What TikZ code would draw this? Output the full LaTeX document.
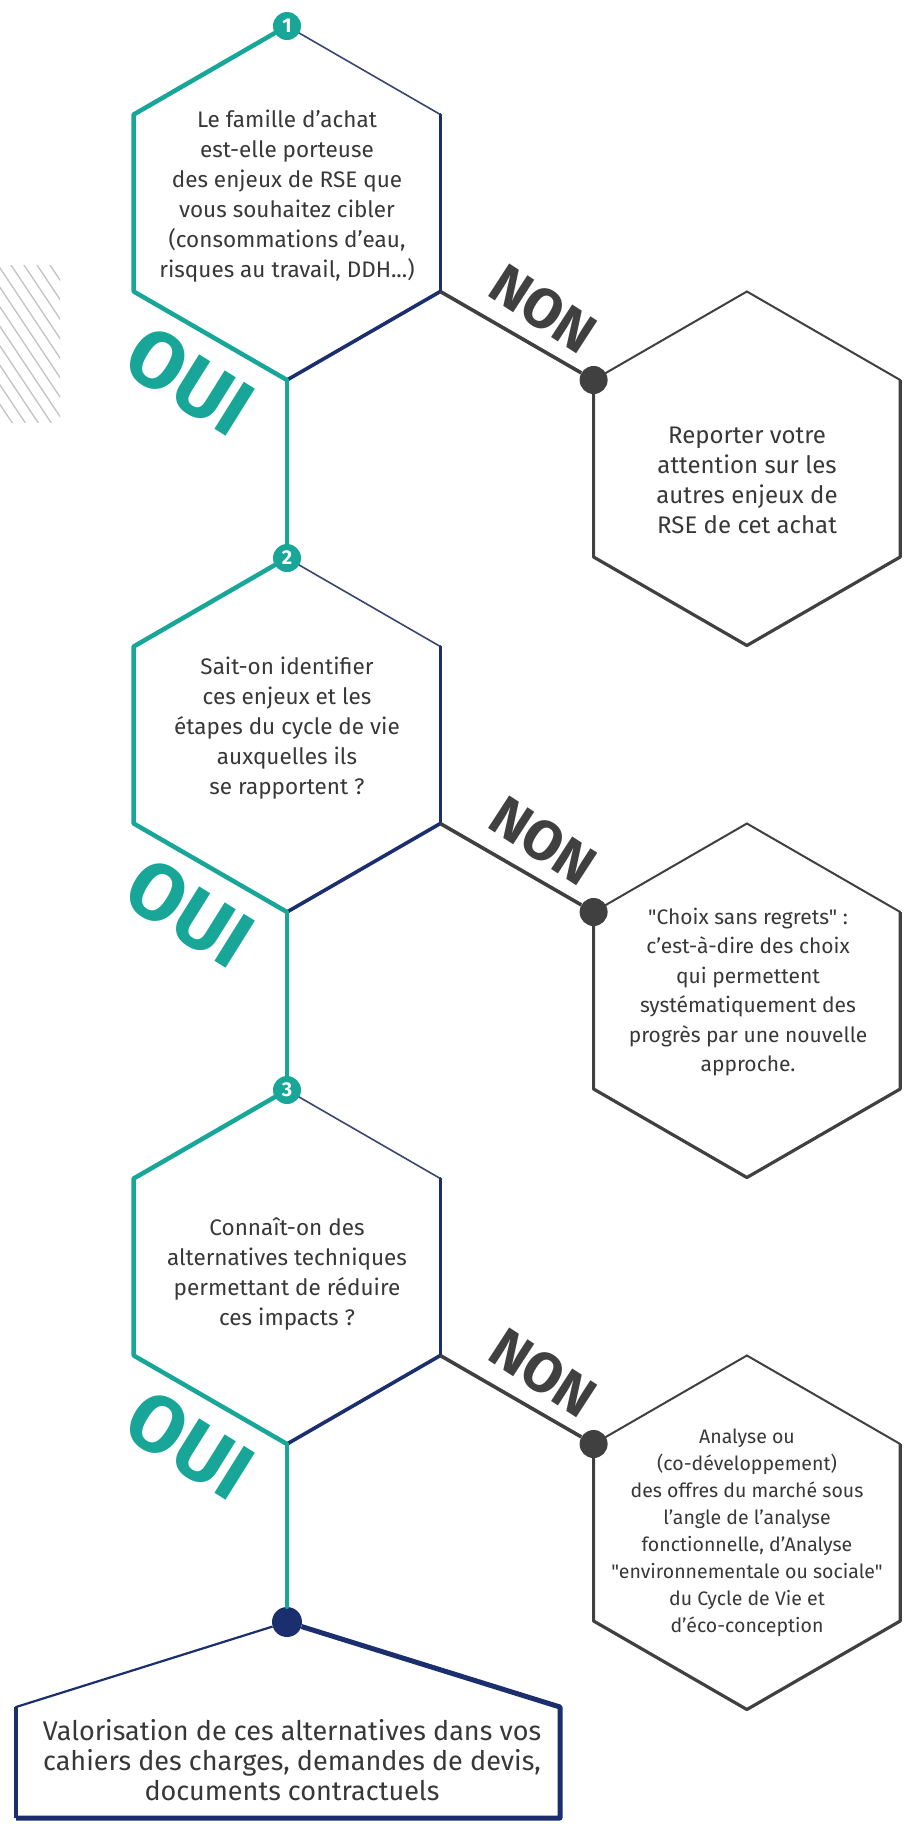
\documentclass[tikz,border=0pt]{standalone}
\usepackage{fontspec}
\setmainfont{Fira Sans}[Ligatures=TeXOff]
\usetikzlibrary{calc}
\definecolor{tealc}{HTML}{17A697}
\definecolor{navyc}{HTML}{1B2E6E}
\definecolor{navythin}{HTML}{3A4670}
\definecolor{grayc}{HTML}{404040}
\definecolor{txtc}{HTML}{383838}
\definecolor{hatchc}{HTML}{C4C4C4}
\newcommand\defhex[3]{%
 \coordinate (#1-c) at (#2,#3);
 \coordinate (#1-t) at (#2,#3-177);
 \coordinate (#1-ur) at (#2+153.3,#3-88.5);
 \coordinate (#1-lr) at (#2+153.3,#3+88.5);
 \coordinate (#1-b) at (#2,#3+177);
 \coordinate (#1-ll) at (#2-153.3,#3+88.5);
 \coordinate (#1-ul) at (#2-153.3,#3-88.5);
}
\tikzset{
 tealline/.style={draw=tealc, line width=4.5pt, line join=round, line cap=round},
 navytop/.style={draw=navythin, line width=1.6pt, line cap=round},
 navyside/.style={draw=navyc, line width=2.8pt, line cap=round},
 navybot/.style={draw=navyc, line width=3.6pt, line cap=round},
 ansline/.style={draw=grayc, line width=3.2pt, line join=round},
 anstop/.style={draw=grayc, line width=2pt, line cap=round},
 nonline/.style={draw=grayc, line width=3.6pt},
 numdot/.style={circle, fill=tealc, inner sep=0pt, minimum size=28pt, text=white, font=\fontsize{20}{20}\selectfont\bfseries},
 graydot/.style={circle, fill=grayc, inner sep=0pt, minimum size=28pt},
 navydot/.style={circle, fill=navyc, inner sep=0pt, minimum size=30pt},
 qtext/.style={align=center, text=txtc, font=\fontsize{22.5}{30}\selectfont},
 atext/.style={align=center, text=txtc, font=\fontsize{21}{29.5}\selectfont},
 ouilbl/.style={text=tealc, font=\fontsize{80}{80}\selectfont\bfseries, rotate=-32, inner sep=0pt},
 nonlbl/.style={text=grayc, font=\fontsize{56}{56}\selectfont\bfseries, rotate=-33, inner sep=0pt},
 hatch/.style={draw=hatchc, line width=1.3pt}
}
\begin{document}
\begin{tikzpicture}[x=1pt,y=-1pt]
\useasboundingbox (0,0) rectangle (912,1824);
\fill[white] (0,0) rectangle (912,1824);
% hatch
\begin{scope}
\clip (0,265) rectangle (60,422);
\foreach \k in {0,...,14} \draw[hatch] (-108+13*\k,262) -- ++(108,162);
\end{scope}
% hex coordinates
\defhex{q1}{287}{203}
\defhex{q2}{287}{735}
\defhex{q3}{287}{1267}
\defhex{a1}{746.9}{468.5}
\defhex{a2}{746.9}{1000.5}
\defhex{a3}{746.9}{1532.5}
% question hexagons
\foreach \h in {q1,q2,q3}{
 \draw[tealline] (\h-t) -- (\h-ul) -- (\h-ll) -- (\h-b);
 \draw[navytop] (\h-t) -- (\h-ur);
 \draw[navyside] (\h-ur) -- (\h-lr);
 \draw[navybot] (\h-lr) -- (\h-b);
}
% answer hexagons
\foreach \h in {a1,a2,a3}{
 \draw[anstop] (\h-ul) -- (\h-t) -- (\h-ur);
 \draw[ansline] (\h-ur) -- (\h-lr) -- (\h-b) -- (\h-ll) -- (\h-ul);
}
% dots
\node[numdot] (n1) at (q1-t) {1};
\node[numdot] (n2) at (q2-t) {2};
\node[numdot] (n3) at (q3-t) {3};
\node[graydot] (d1) at (a1-ul) {};
\node[graydot] (d2) at (a2-ul) {};
\node[graydot] (d3) at (a3-ul) {};
\node[navydot] (df) at (287,1622) {};
% connectors
\draw[tealline] (q1-b) -- (n2);
\draw[tealline] (q2-b) -- (n3);
\draw[tealline] (q3-b) -- (df);
\draw[nonline] (q1-lr) -- (d1);
\draw[nonline] (q2-lr) -- (d2);
\draw[nonline] (q3-lr) -- (d3);
% labels
\foreach \h in {q1,q2,q3}{
 \node[ouilbl] at ($(\h-c)+(-97,178)$) {OUI};
 \node[nonlbl] at ($(\h-c)+(256,106)$) {NON};
}
% texts
\node[qtext] (t1) at (287,196) {Le famille d’achat\\est-elle porteuse\\des enjeux de RSE que\\vous souhaitez cibler\\(consommations d’eau,\\risques au travail, DDH...)};
\node[qtext] (t2) at (287,728) {Sait-on identifier\\ces enjeux et les\\étapes du cycle de vie\\auxquelles ils\\se rapportent ?};
\node[qtext] (t3) at (287,1274) {Connaît-on des\\alternatives techniques\\permettant de réduire\\ces impacts ?};
\node[align=center, text=txtc, font=\fontsize{24}{30}\selectfont] (r1) at (747,480) {Reporter votre\\attention sur les\\autres enjeux de\\RSE de cet achat};
\node[atext] (r2) at (748,992) {"Choix sans regrets" :\\c’est-à-dire des choix\\qui permettent\\systématiquement des\\progrès par une nouvelle\\approche.};
\node[align=center, text=txtc, font=\fontsize{19.5}{27}\selectfont] (r3) at (747,1533) {Analyse ou\\(co-développement)\\des offres du marché sous\\l’angle de l’analyse\\fonctionnelle, d’Analyse\\"environnementale ou sociale"\\du Cycle de Vie et\\d’éco-conception};
% final box
\coordinate (bls) at (16,1707);
\coordinate (brs) at (560,1707);
\coordinate (blb) at (16,1818);
\coordinate (brb) at (560,1818);
\draw[draw=navyc, line width=2.2pt, line join=round] (df) -- (bls) -- (blb);
\draw[draw=navyc, line width=5pt, line join=round] (df) -- (brs) -- (brb) -- (blb);
\draw[draw=navyc, line width=3.5pt] (bls) -- (blb);
\node[align=center, text=txtc, font=\fontsize{27}{30}\selectfont] (vt) at (292,1760) {Valorisation de ces alternatives dans vos\\cahiers des charges, demandes de devis,\\documents contractuels};
\end{tikzpicture}
\end{document}
